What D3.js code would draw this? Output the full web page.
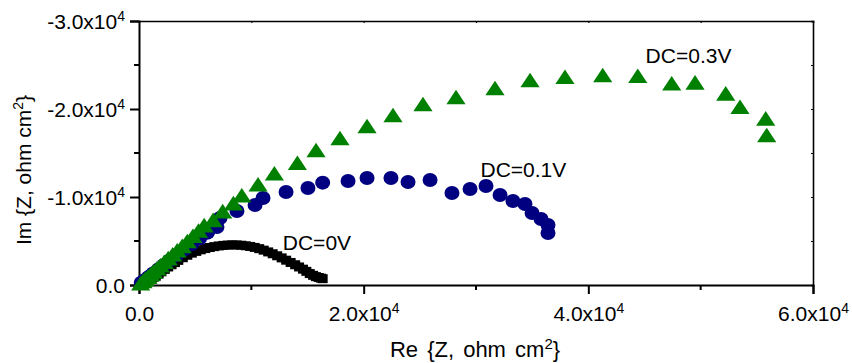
<!DOCTYPE html>
<html>
<head>
<meta charset="utf-8">
<script src="https://cdn.jsdelivr.net/npm/d3@7"></script>
<style>
  html, body { margin: 0; padding: 0; background: #fff; }
  svg { display: block; font-family: "Liberation Sans", Arial, sans-serif; }
</style>
</head>
<body>
<svg id="chart" width="852" height="363"></svg>
<script>
// ---- data (Re Z, -Im Z in ohm cm^2; Im stored as negative values) ----
const seriesNames = ["DC=0V", "DC=0.1V", "DC=0.3V"];

const dc0Re = [100,300,500,700,900,1100,1300,1500,1750,2000,2300,2600,2900,3200,3500,3900,4300,4700,5100,5500,
  5900,6300,6700,7100,7500,7900,8300,8700,9100,9500,9900,10300,10700,11100,11500,11900,12300,12700,13100,13500,
  13900,14250,14600,14900,15200,15500,15750,16000,16200,16350];
const dc0Im = [-50,-200,-350,-500,-620,-750,-880,-1000,-1250,-1500,-1780,-2050,-2300,-2550,-2800,-3100,-3380,-3620,-3820,-4000,
  -4140,-4260,-4360,-4440,-4500,-4540,-4560,-4550,-4520,-4460,-4380,-4270,-4130,-3960,-3760,-3550,-3320,-3080,-2820,-2560,
  -2300,-2050,-1800,-1550,-1300,-1100,-950,-850,-780,-720];

const dc01Re = [200,500,850,1250,1700,2200,2750,3350,4000,4700,5400,6100,6940,7210,8720,10330,11040,13090,15040,16350,
  18610,20300,22430,23950,25910,27860,29470,30890,32140,33290,34360,34990,35790,36410,36410];
const dc01Im = [-250,-550,-900,-1300,-1750,-2250,-2800,-3400,-4000,-4650,-5300,-5950,-6590,-7610,-8410,-9090,-9890,-10570,-11020,-11630,
  -11820,-12160,-12160,-11700,-11930,-10450,-10910,-11250,-10230,-9550,-9200,-8180,-7500,-6820,-5910];

const dc03Re = [150,350,550,800,1050,1300,1600,1900,2250,2600,3000,3400,3850,4300,4800,5300,5800,6600,7450,8400,
  9150,10600,12050,14100,15760,17890,20300,22610,25280,28220,31690,34810,37920,41280,44400,47420,49500,52230,53500,55790,55880];
const dc03Im = [-200,-450,-700,-950,-1250,-1550,-1900,-2250,-2650,-3050,-3500,-3950,-4450,-5000,-5600,-6200,-6800,-7400,-8400,-9300,
  -10200,-11450,-12700,-13900,-15340,-16700,-18070,-19320,-20570,-21360,-22390,-23300,-23670,-23860,-23780,-22920,-23030,-21780,-20260,-18940,-17050];

const labelRe = [12800, 30400, 45100];
const labelIm = [-3950, -12300, -25250];

const xMajorTicks = [0, 20000, 40000, 60000];
const xMinorTicks = [10000, 30000, 50000];
const yMajorTicks = [0, -10000, -20000, -30000];
const yMinorTicks = [-5000, -15000, -25000];

const xTitle = "Re {Z, ohm cm";
const yTitle = "Im {Z, ohm cm";

// ---- layout ----
const pL = 139, pR = 813, pT = 21, pB = 285;
const svg = d3.select("#chart");
const x = d3.scaleLinear().domain([0, 60000]).range([pL, pR]);
const y = d3.scaleLinear().domain([0, -30000]).range([pB, pT]);

function fmtTick(sel) {
  sel.each(function(v) {
    const t = d3.select(this);
    t.text(null);
    if (v === 0) { t.append("tspan").text("0.0"); return; }
    const m = (v / 10000).toFixed(1);
    t.append("tspan").text(m + "x10");
    t.append("tspan").attr("dy", -8).attr("font-size", 14).text("4");
  });
}

// axes
const xAxis = svg.append("g").attr("transform", `translate(0,${pB})`)
  .call(d3.axisBottom(x).tickValues(xMajorTicks).tickSize(9).tickPadding(12));
xAxis.selectAll("text").attr("font-size", 21).attr("fill", "#000").call(fmtTick);
xAxis.append("g").selectAll("line").data(xMinorTicks).join("line")
  .attr("x1", d => x(d)).attr("x2", d => x(d)).attr("y1", 0).attr("y2", 5)
  .attr("stroke", "#000").attr("stroke-width", 2);

const yAxis = svg.append("g").attr("transform", `translate(${pL},0)`)
  .call(d3.axisLeft(y).tickValues(yMajorTicks).tickSize(9).tickPadding(5));
yAxis.selectAll("text").attr("font-size", 21).attr("fill", "#000").attr("dy", "0.35em").call(fmtTick);
yAxis.append("g").selectAll("line").data(yMinorTicks).join("line")
  .attr("y1", d => y(d)).attr("y2", d => y(d)).attr("x1", 0).attr("x2", -5)
  .attr("stroke", "#000").attr("stroke-width", 2);

[xAxis, yAxis].forEach(a => {
  a.select(".domain").attr("stroke", "#000").attr("stroke-width", 2);
  a.selectAll(".tick line").attr("stroke", "#000").attr("stroke-width", 2);
  a.attr("font-family", null);
});

// top and right frame with tiny inward ticks
const topAxis = svg.append("g").attr("transform", `translate(0,${pT})`)
  .call(d3.axisTop(x).tickValues(xMajorTicks.concat(xMinorTicks)).tickSize(-2).tickFormat(""));
const rightAxis = svg.append("g").attr("transform", `translate(${pR},0)`)
  .call(d3.axisRight(y).tickValues(yMajorTicks.concat(yMinorTicks)).tickSize(-2).tickFormat(""));
[topAxis, rightAxis].forEach(a => {
  a.select(".domain").attr("stroke", "#000").attr("stroke-width", 1.6);
  a.selectAll(".tick line").attr("stroke", "#000").attr("stroke-width", 1.2);
});

// axis titles
const xt = svg.append("text").attr("x", 475).attr("y", 357)
  .attr("text-anchor", "middle").attr("font-size", 22).attr("word-spacing", 3).attr("fill", "#000");
xt.append("tspan").text(xTitle);
xt.append("tspan").attr("dy", -8).attr("font-size", 15).text("2");
xt.append("tspan").attr("dy", 8).text("}");

const yt = svg.append("text").attr("transform", `translate(31,170) rotate(-90)`)
  .attr("text-anchor", "middle").attr("font-size", 21).attr("fill", "#000");
yt.append("tspan").text(yTitle);
yt.append("tspan").attr("dy", -8).attr("font-size", 14).text("2");
yt.append("tspan").attr("dy", 8).text("}");

// marks
const g = svg.append("g");
const sqW = 10, sqH = 9;
g.append("g").selectAll("rect").data(d3.range(dc0Re.length)).join("rect")
  .attr("x", i => x(dc0Re[i]) - sqW / 2).attr("y", i => y(dc0Im[i]) - sqH / 2)
  .attr("width", sqW).attr("height", sqH).attr("fill", "#000");

g.append("g").selectAll("ellipse").data(d3.range(dc01Re.length)).join("ellipse")
  .attr("cx", i => x(dc01Re[i])).attr("cy", i => y(dc01Im[i]))
  .attr("rx", 7.5).attr("ry", 7).attr("fill", "#000080");

const tri = "M0,-7.3L9.6,7.3L-9.6,7.3Z";
g.append("g").selectAll("path").data(d3.range(dc03Re.length)).join("path")
  .attr("transform", i => `translate(${x(dc03Re[i])},${y(dc03Im[i])})`)
  .attr("d", tri).attr("fill", "#008000");

// series labels
svg.append("g").selectAll("text").data(seriesNames).join("text")
  .attr("x", (d, i) => x(labelRe[i])).attr("y", (d, i) => y(labelIm[i]))
  .attr("font-size", 21).attr("fill", "#000").text(d => d);
</script>
</body>
</html>
